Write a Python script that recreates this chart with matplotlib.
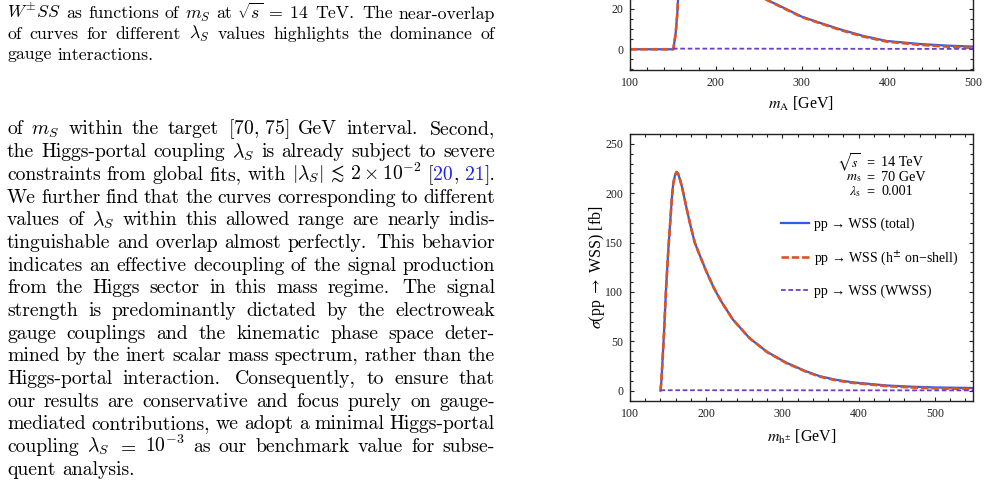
import numpy as np
import matplotlib
matplotlib.use("Agg")
import matplotlib.pyplot as plt
from matplotlib.ticker import MultipleLocator

W, H = 988, 482

# ---------------- data ----------------
# upper panel: sigma vs m_A (only the low part is inside the crop)
mA = [100, 150, 150.5, 153.3, 155.2, 156, 158, 160, 165, 170, 180, 200, 220,
      240, 259.4, 280, 300.2, 321.6, 344.9, 372, 399.3, 438, 470, 500]
mA_onshell = [0, 0, 0, 8, 18, 24.5, 45, 80, 120, 110, 90, 60, 42,
              31, 24.5, 20.2, 16.0, 12.9, 9.6, 6.3, 3.8, 2.2, 1.3, 0.7]
mA_total = [0, 0, 0, 8, 18, 24.5, 45, 80, 120, 110, 90, 60, 42,
            31, 24.6, 20.4, 16.2, 13.1, 9.9, 6.6, 4.1, 2.6, 1.8, 1.3]
mA_ww = [150, 200, 300, 400, 500]
mA_wwss = [0.3, 0.3, 0.25, 0.2, 0.15]

# lower panel: sigma vs m_h+-
mh = [140, 141, 142, 144.6, 147.2, 150.3, 153.3, 155, 156.8, 159, 161, 163,
      165.5, 168, 170, 175, 180, 185, 190, 200, 210, 220, 235, 257, 280,
      305, 330, 349, 370, 393, 437, 470, 502, 550]
mh_onshell = [0, 8, 21, 58, 102, 143, 177, 196, 210, 218, 221.5, 220,
              214, 207, 200, 182, 165, 150, 140, 121, 104, 90, 72, 53, 39,
              28, 19.5, 14.2, 10.5, 7.8, 4.6, 3.2, 2.3, 1.5]
mh_total = [0, 8, 21, 58, 102, 143, 177, 196, 210, 218, 221.5, 220,
            214, 207, 200, 182, 165, 150, 140, 121, 104, 90, 72, 53, 39.2,
            28.3, 19.9, 14.6, 11.0, 8.3, 5.2, 4.0, 3.2, 2.7]
mh_ww = [140, 200, 300, 400, 550]
mh_wwss = [0.4, 0.4, 0.35, 0.3, 0.25]

legend_labels = ["pp \u2192 WSS (total)",
                 "pp \u2192 WSS (h$^{\\pm}$ on\u2212shell)",
                 "pp \u2192 WSS (WWSS)"]
bench_left = [r"$\sqrt{s}$", r"$m_{\rm s}$", r"$\lambda_{\rm s}$"]
bench_right = ["14 TeV", "70 GeV", "0.001"]

caption = [
    r"$W^{\pm}SS$ as functions of $m_S$ at $\sqrt{s}\;=\;14$ TeV. The near-overlap",
    r"of curves for different $\lambda_S$ values highlights the dominance of",
    r"gauge interactions.",
]
body = [
    r"of $m_S$ within the target $[70,\,75]$ GeV interval. Second,",
    r"the Higgs-portal coupling $\lambda_S$ is already subject to severe",
    r"constraints from global fits, with $|\lambda_S|\,\lesssim\,2\times10^{-2}$ [§20§, §21§].",
    r"We further find that the curves corresponding to different",
    r"values of $\lambda_S$ within this allowed range are nearly indis-",
    r"tinguishable and overlap almost perfectly. This behavior",
    r"indicates an effective decoupling of the signal production",
    r"from the Higgs sector in this mass regime. The signal",
    r"strength is predominantly dictated by the electroweak",
    r"gauge couplings and the kinematic phase space deter-",
    r"mined by the inert scalar mass spectrum, rather than the",
    r"Higgs-portal interaction. Consequently, to ensure that",
    r"our results are conservative and focus purely on gauge-",
    r"mediated contributions, we adopt a minimal Higgs-portal",
    r"coupling $\lambda_S$ $=$ $10^{-3}$ as our benchmark value for subse-",
    r"quent analysis.",
]

BLUE = "#2b5cf2"
RED = "#dc5420"
PURPLE = "#6a3fc8"
LINK = "#2222ee"

fig = plt.figure(figsize=(W / 100, H / 100), dpi=100)
rend = fig.canvas.get_renderer()


def px(x, y):
    return x / W, 1 - y / H


# ---------------- justified text on the left ----------------
def split_words(line):
    words, buf = [], ""
    for p in line.split(" "):
        buf = p if not buf else buf + " " + p
        if buf.count("$") % 2 == 0:
            words.append(buf)
            buf = ""
    return words


def text_w(s, fs):
    t = fig.text(0, 0, s, fontsize=fs, family="cmr10", math_fontfamily="cm")
    w = t.get_window_extent(rend).width
    t.remove()
    return w


def gap_weights(words):
    return [1.4 if w.endswith(".") else 1.0 for w in words[:-1]]


def fit_size(lines, fs0=12, L=488, em_space=0.38):
    # font size whose justified inter-word space is about em_space on average
    a, b = [], []
    for line in lines[:-1]:
        words = split_words(line)
        tot = sum(text_w(p, fs0) for w in words for p in w.split("§") if p)
        n = sum(gap_weights(words))
        a.append(tot / fs0 / n)
        b.append(L / n)
    return np.mean(b) / (np.mean(a) + em_space * 100 / 72)


def put_line(line, ybase, fs, justify=True, x0=7, x1=495):
    words = split_words(line)
    pieces = [w.split("§") for w in words]
    widths = [[text_w(p, fs) if p else 0 for p in ps] for ps in pieces]
    tot = sum(sum(ws) for ws in widths)
    weights = gap_weights(words)
    if justify:
        space = (x1 - x0 - tot) / sum(weights)
    else:
        space = fs * 0.36 * 100 / 72
    x = x0
    for i, ps in enumerate(pieces):
        for j, p in enumerate(ps):
            if p:
                fig.text(*px(x, ybase), p, fontsize=fs, family="cmr10",
                         math_fontfamily="cm", va="baseline", ha="left",
                         color=LINK if j % 2 else "black")
            x += widths[i][j]
        if i < len(weights):
            x += space * weights[i]


fs_cap = fit_size(caption)
fs_body = fit_size(body)
for k, line in enumerate(caption):
    put_line(line, 18.5 + 20.5 * k, fs_cap, justify=(k < len(caption) - 1))
for k, line in enumerate(body):
    put_line(line, 134.5 + 22.68 * k, fs_body, justify=(k < len(body) - 1))


# ---------------- plots ----------------
SERIF = ["Liberation Serif", "DejaVu Serif"]


def style(ax, xmaj, xmin, ymin):
    ax.xaxis.set_major_locator(MultipleLocator(xmaj))
    ax.xaxis.set_minor_locator(MultipleLocator(xmin))
    ax.yaxis.set_minor_locator(MultipleLocator(ymin))
    ax.tick_params(which="both", direction="in", top=True, right=True,
                   color="#222222", width=0.8, labelsize=8.6, pad=5.0)
    ax.tick_params(which="major", length=3.2)
    ax.tick_params(which="minor", length=1.9)
    for lab in ax.get_xticklabels() + ax.get_yticklabels():
        lab.set_family(SERIF)
        lab.set_color("#222222")
    for s in ax.spines.values():
        s.set_linewidth(1.0)
        s.set_color("#222222")


def draw(ax, x, tot, ons, xw, ww):
    ax.plot(x, tot, color=BLUE, lw=1.6, solid_joinstyle="round", label=legend_labels[0])
    ax.plot(x, ons, color=RED, lw=1.9, ls=(0, (2.8, 1.1)), label=legend_labels[1])
    ax.plot(xw, ww, color=PURPLE, lw=1.3, ls=(0, (2.6, 1.5)), label=legend_labels[2])


# upper panel, extends above the crop
ax1 = fig.add_axes([630 / W, 1 - 70 / H, 343 / W, 525 / H])
draw(ax1, mA, mA_total, mA_onshell, mA_ww, mA_wwss)
ax1.set_xlim(100, 500)
ax1.set_ylim(-10.3, -10.3 + 525 / 2.015)
ax1.set_yticks([0, 20])
style(ax1, 100, 20, 5)
ax1.set_xlabel(r"$m_{\rm A}$ [GeV]", fontsize=11.5, family=SERIF,
               math_fontfamily="stix")
ax1.xaxis.set_label_coords(0.5, -25 / 525)

# lower panel
ax2 = fig.add_axes([630 / W, 1 - 400.7 / H, 343 / W, 266.7 / H])
draw(ax2, mh, mh_total, mh_onshell, mh_ww, mh_wwss)
ax2.set_xlim(100, 550)
ax2.set_ylim(-10.2, 260)
ax2.yaxis.set_major_locator(MultipleLocator(50))
style(ax2, 100, 20, 10)
ax2.set_xlabel(r"$m_{\mathrm{h}^{\pm}}$ [GeV]", fontsize=11.5, family=SERIF,
               math_fontfamily="stix")
ax2.xaxis.set_label_coords(0.5, -27 / 266.7)
ax2.set_ylabel(r"$\sigma$(pp $\rightarrow$ WSS) [fb]", fontsize=11.5,
               family=SERIF, math_fontfamily="stix")
ax2.yaxis.set_label_coords(-23 / 343, 0.5)

for k in range(3):
    yk = 163 + 14.5 * k
    fig.text(*px(861, yk), bench_left[k], fontsize=10.0,
             family=SERIF, math_fontfamily="stix", ha="right", va="center")
    fig.text(*px(870, yk), "=", fontsize=10.3,
             family=SERIF, ha="center", va="center")
    fig.text(*px(881, yk), bench_right[k], fontsize=10.3,
             family=SERIF, ha="left", va="center")

leg = ax2.legend(loc="upper left", bbox_to_anchor=px(781, 218),
                 bbox_transform=fig.transFigure, frameon=False,
                 prop={"family": SERIF, "size": 10}, handlelength=2.0,
                 handletextpad=0.4, labelspacing=1.2, borderpad=0,
                 borderaxespad=0)

fig.savefig("out.png", dpi=100)
